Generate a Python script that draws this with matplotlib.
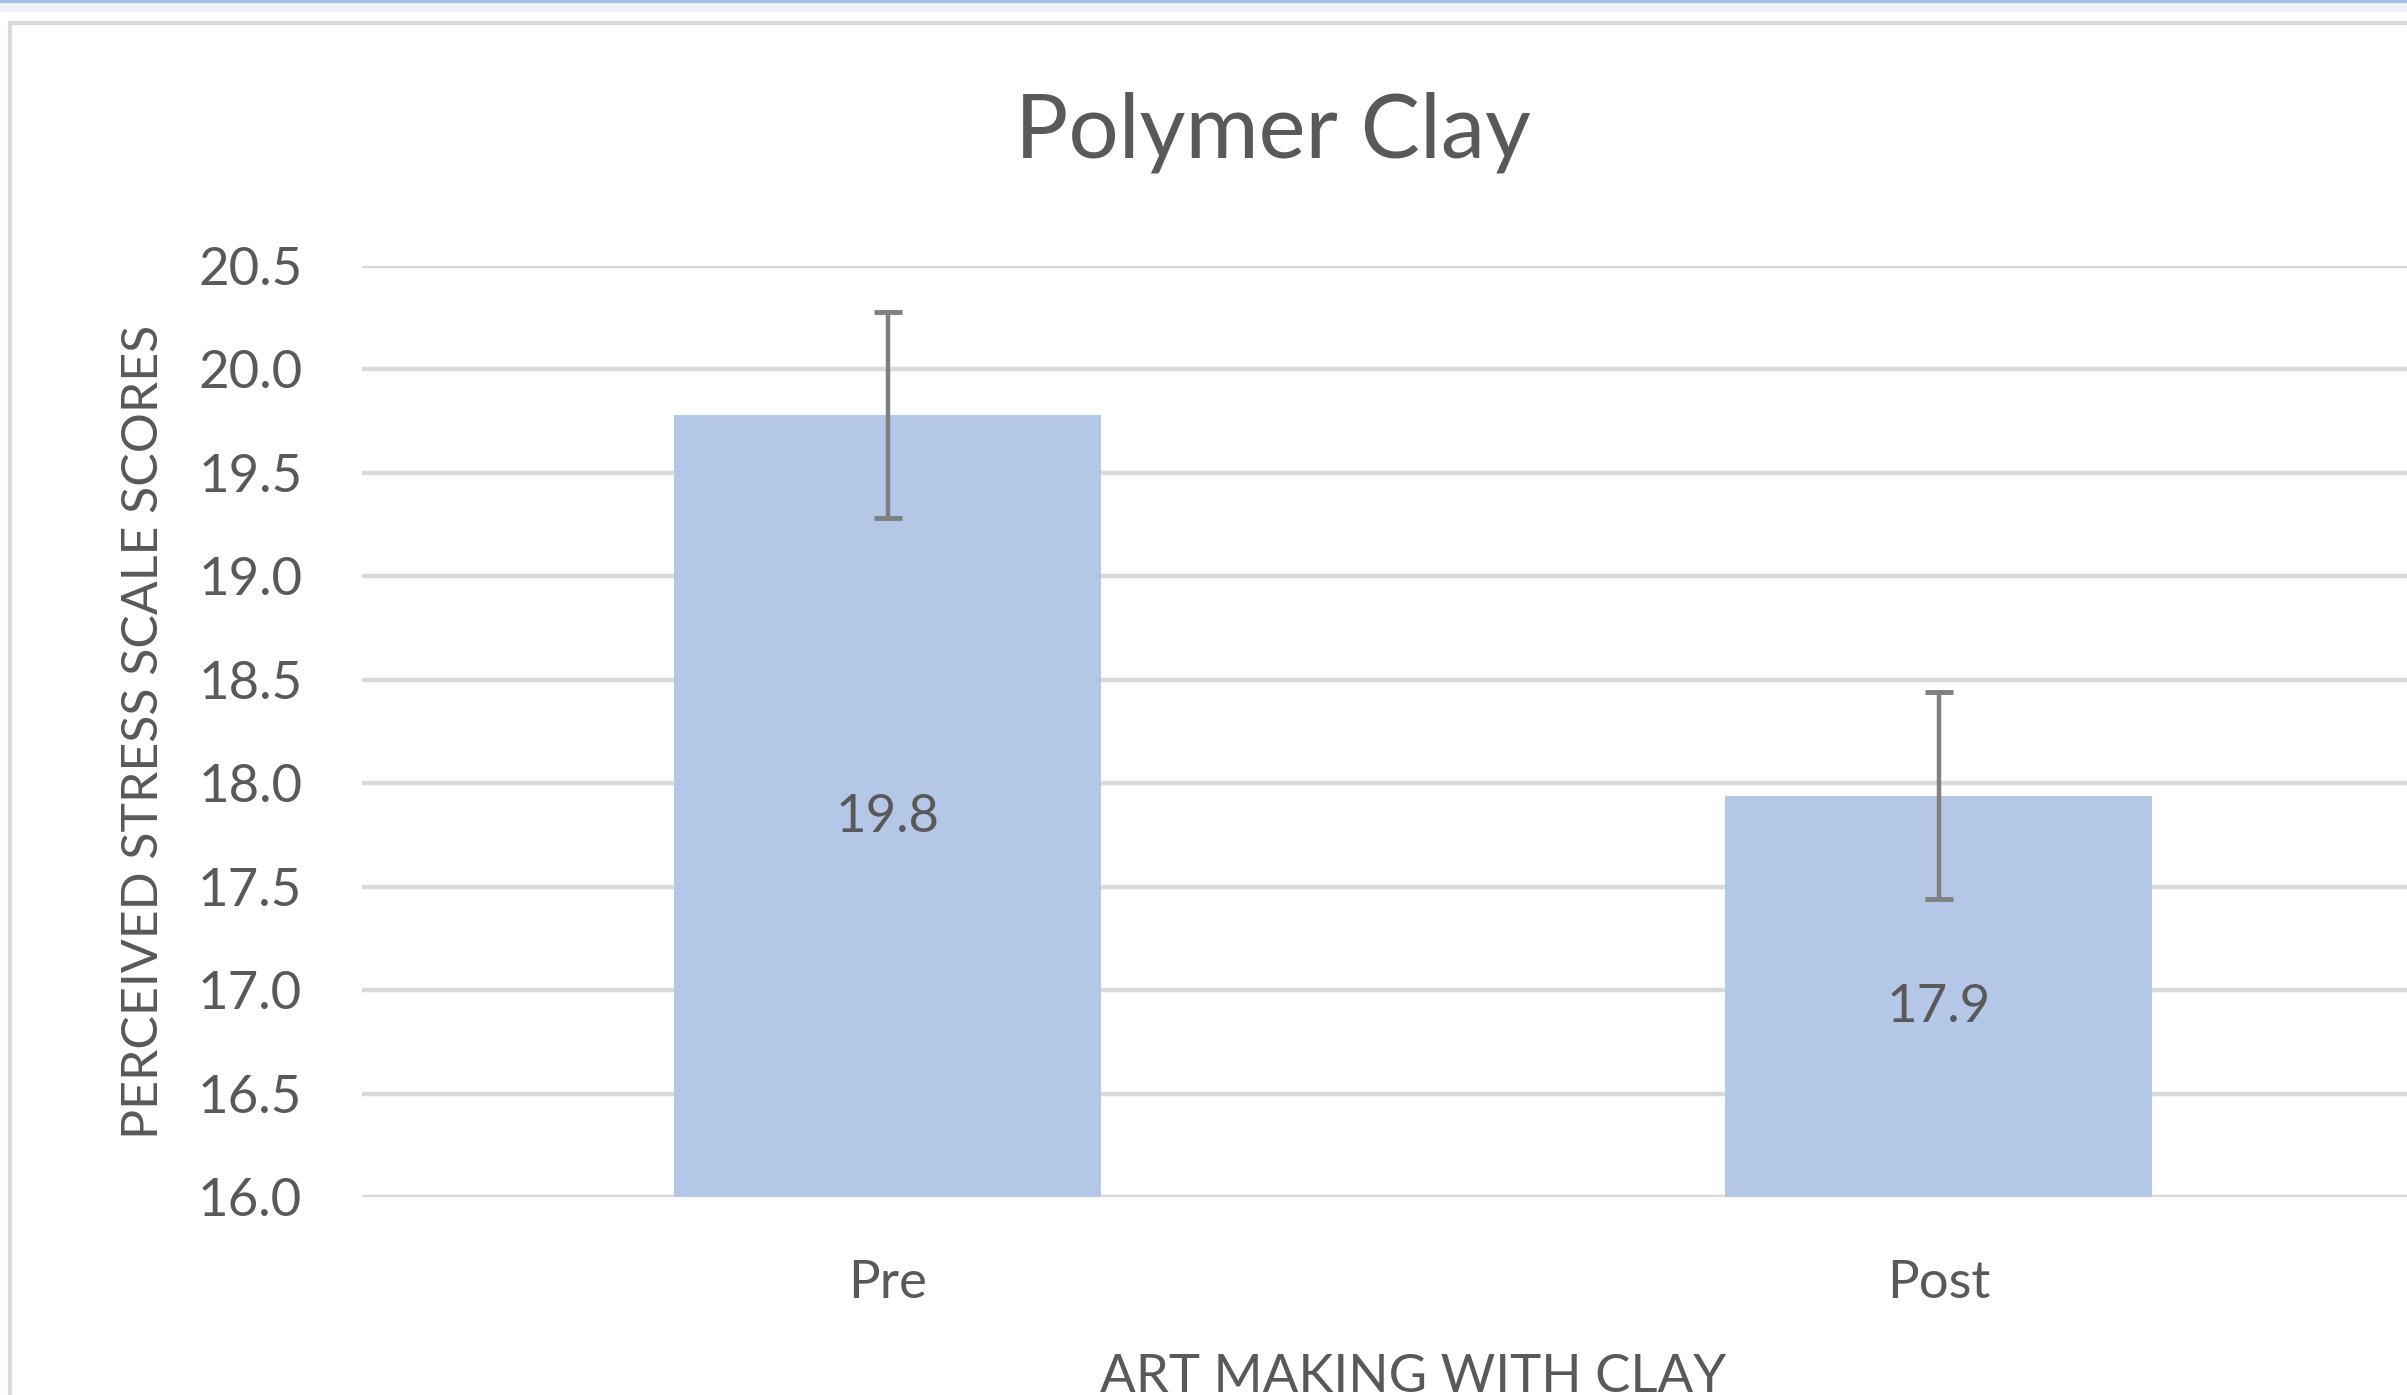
import matplotlib.pyplot as plt
from matplotlib.patches import Rectangle

categories = ['Pre', 'Post']
means = [19.78, 17.94]
errors = [0.5, 0.5]

title = 'Polymer Clay'
x_title = 'ART MAKING WITH CLAY'
y_title = 'PERCEIVED STRESS SCALE SCORES'
y_ticks = [16.0, 16.5, 17.0, 17.5, 18.0, 18.5, 19.0, 19.5, 20.0, 20.5]

txt = '#595959'
plt.rcParams['font.family'] = ['Lato', 'DejaVu Sans']

fig = plt.figure(figsize=(24.07, 13.95), dpi=100, facecolor='white')

# полоска окна сверху и рамка диаграммы
fig.patches.append(Rectangle((0, 1 - 12 / 1395), 1, 12 / 1395, transform=fig.transFigure,
                             facecolor='#eef3fb', edgecolor='none', zorder=-10))
fig.patches.append(Rectangle((0, 1 - 3 / 1395), 1, 3 / 1395, transform=fig.transFigure,
                             facecolor='#9fc0e8', edgecolor='none', zorder=-10))
fig.patches.append(Rectangle((10 / 2407, -0.1), 1.2, 1.1 - 23 / 1395, transform=fig.transFigure,
                             facecolor='white', edgecolor='#d9d9d9', lw=3, zorder=-10))

ax = fig.add_axes([0.1504, 0.1419, 0.8733, 0.6674])
ax.set_facecolor('none')
x = list(range(len(categories)))
bars = ax.bar(x, [m - 16 for m in means], bottom=16, width=0.407, color='#b4c7e7', zorder=2)
ax.errorbar(x, means, yerr=errors, fmt='none', ecolor='#808080', elinewidth=3.2,
            capsize=10, capthick=3.5, zorder=3)

for xi, m in zip(x, means):
    ax.annotate(f'{m:.1f}', (xi, (16 + m) / 2), xytext=(0, -8), textcoords='offset points',
                ha='center', va='center', fontsize=38, color=txt, zorder=4)

ax.set_xlim(-0.5, 1.5)
ax.set_ylim(16, 20.5)
ax.set_yticks(y_ticks)
ax.set_yticklabels([f'{t:.1f}' for t in y_ticks])
ax.set_xticks(x)
ax.set_xticklabels(categories)
ax.tick_params(axis='both', length=0, labelsize=38, labelcolor=txt)
ax.tick_params(axis='y', pad=43)
ax.tick_params(axis='x', pad=45)
ax.grid(axis='y', color='#d9d9d9', lw=3.2, zorder=0)
ax.set_axisbelow(True)
for s in ax.spines.values():
    s.set_visible(False)

ax.set_ylabel(y_title, fontsize=36, color=txt, labelpad=22)
ax.set_xlabel(x_title, fontsize=38, color=txt, labelpad=34)

fig.text(0.529, 0.905, title, ha='center', va='center', fontsize=64, color=txt)

fig.savefig('out.png', dpi=100)
